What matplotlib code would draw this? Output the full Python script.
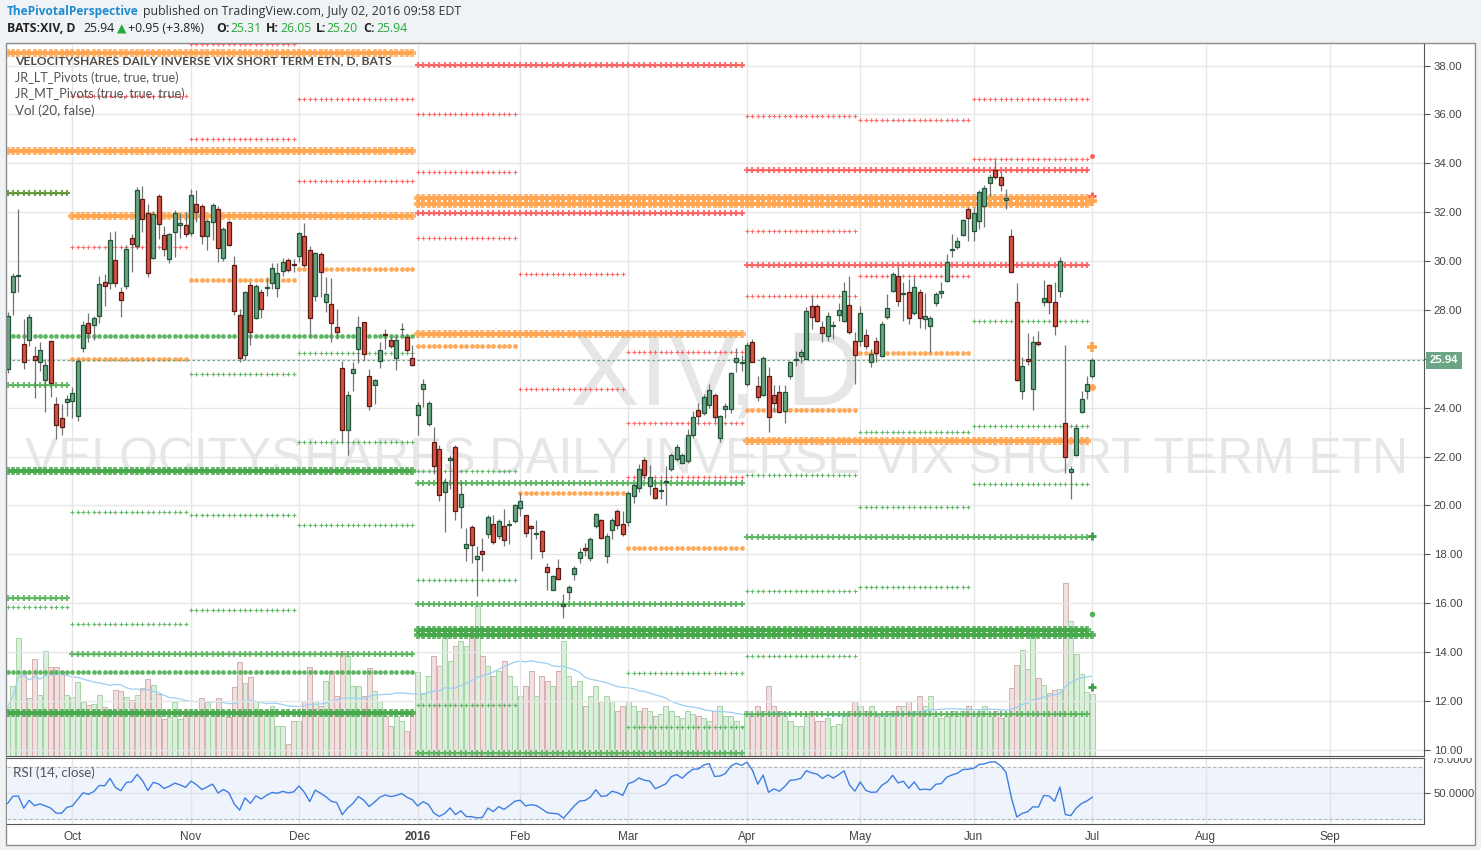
import numpy as np
import pandas as pd
import matplotlib
matplotlib.use("Agg")
import matplotlib.pyplot as plt
from matplotlib.patches import Rectangle
from matplotlib.transforms import blended_transform_factory, Bbox, TransformedBbox

W, H = 1481, 850

# BATS:XIV daily bars, 2015-09-15 .. 2016-07-01
opens = [25.58, 28.72, 29.38, 26.59, 26.79, 26.12, 25.85, 25.15, 26.71, 24.17,
         23.59, 24.25, 24.29, 23.64, 26.43, 27.45, 27.39, 27.76, 29.13, 29.12,
         30.05, 28.72, 28.99, 30.95, 30.63, 32.53, 31.96, 30.11, 32.66, 31.06,
         30.07, 31.18, 31.49, 31.47, 31.14, 32.33, 32.25, 31.02, 31.60, 32.12,
         30.11, 31.59, 29.83, 27.78, 26.14, 29.03, 27.68, 28.75, 28.88, 29.09,
         28.88, 29.61, 30.03, 29.87, 30.22, 31.02, 30.44, 28.58, 30.28, 28.31,
         28.23, 27.29, 25.64, 23.10, 25.40, 26.42, 27.49, 25.28, 24.93, 25.93,
         27.00, 26.78, 26.04, 27.20, 26.88, 26.05, 23.70, 24.78, 23.35, 22.61,
         22.33, 20.56, 21.85, 22.41, 19.95, 18.27, 19.13, 17.81, 18.14, 18.84,
         19.26, 18.74, 19.18, 19.21, 19.36, 19.91, 19.59, 19.18, 18.85, 18.95,
         17.47, 16.56, 17.45, 15.87, 16.46, 17.20, 17.85, 18.27, 17.85, 19.15,
         19.40, 17.95, 18.98, 19.77, 19.25, 19.32, 20.38, 20.71, 21.86, 20.79,
         20.72, 20.58, 20.95, 21.50, 21.91, 21.75, 21.83, 22.90, 23.92, 23.80,
         24.13, 24.50, 22.78, 23.96, 23.96, 25.89, 25.83, 24.96, 26.67, 24.89,
         24.53, 25.30, 24.53, 24.65, 23.87, 25.28, 25.94, 26.10, 26.01, 28.15,
         28.15, 27.31, 26.92, 27.33, 27.79, 27.56, 28.21, 26.74, 26.74, 26.98,
         25.89, 26.71, 26.12, 27.70, 28.79, 29.38, 28.67, 28.72, 27.86, 28.72,
         27.63, 27.33, 28.27, 28.68, 29.17, 30.46, 30.56, 31.08, 32.12, 31.21,
         31.63, 32.25, 33.19, 33.72, 33.44, 32.51, 31.02, 28.31, 24.69, 25.99,
         24.78, 26.70, 28.34, 29.02, 28.31, 28.79, 23.39, 21.38, 22.06, 23.84,
         24.69, 25.31]
highs = [27.90, 29.51, 32.14, 27.63, 27.83, 26.53, 26.67, 25.99, 26.75, 24.42,
         24.14, 24.51, 24.83, 25.99, 27.56, 27.87, 27.76, 29.38, 29.46, 31.18,
         31.23, 28.93, 30.66, 31.11, 33.03, 33.07, 32.34, 32.03, 32.75, 31.45,
         31.14, 32.07, 31.97, 32.00, 32.96, 32.92, 32.34, 31.73, 32.36, 32.27,
         31.38, 31.66, 30.20, 28.04, 28.79, 29.13, 29.06, 28.86, 29.33, 29.92,
         29.91, 30.11, 30.11, 30.09, 31.18, 31.56, 30.61, 30.39, 30.36, 29.33,
         29.29, 28.04, 25.92, 24.69, 25.89, 27.74, 27.52, 25.58, 25.19, 26.67,
         27.22, 26.88, 26.94, 27.46, 27.00, 26.56, 24.25, 25.19, 24.28, 23.23,
         22.49, 21.14, 22.05, 22.46, 21.00, 19.08, 19.22, 18.36, 18.68, 19.59,
         19.59, 19.43, 19.84, 19.39, 20.08, 20.49, 19.63, 19.22, 19.39, 18.99,
         17.65, 17.17, 17.79, 16.38, 16.76, 17.51, 18.24, 18.47, 18.72, 19.70,
         19.43, 18.88, 19.50, 19.86, 19.77, 20.59, 20.93, 21.68, 21.99, 21.64,
         21.07, 21.09, 21.61, 22.16, 22.53, 22.16, 23.12, 23.87, 24.21, 24.55,
         24.96, 24.59, 23.72, 24.21, 25.47, 26.46, 26.15, 26.67, 26.81, 25.28,
         26.12, 25.65, 24.92, 24.92, 24.92, 25.92, 26.33, 26.42, 28.10, 28.58,
         28.24, 27.56, 27.90, 27.56, 28.28, 29.13, 29.40, 27.11, 28.15, 27.22,
         26.40, 26.88, 27.55, 28.65, 29.54, 29.75, 29.13, 29.27, 29.33, 28.86,
         28.69, 27.76, 28.72, 29.16, 30.29, 31.11, 30.98, 31.73, 32.21, 32.21,
         32.89, 33.12, 33.57, 34.12, 33.64, 32.96, 31.32, 29.10, 26.06, 27.05,
         26.94, 27.15, 29.24, 29.06, 29.13, 30.16, 26.56, 21.61, 23.32, 24.69,
         25.28, 26.05]
lows = [25.41, 27.80, 28.72, 25.60, 26.51, 24.40, 25.49, 23.83, 24.44, 22.70,
        22.90, 23.66, 23.57, 23.46, 26.26, 26.67, 26.78, 27.46, 28.17, 28.86,
        28.95, 27.72, 28.86, 29.57, 30.50, 31.18, 29.36, 30.09, 30.91, 30.20,
        29.92, 30.18, 30.96, 30.98, 31.04, 31.59, 30.70, 30.46, 30.85, 29.98,
        30.02, 30.61, 27.80, 25.89, 25.96, 26.57, 27.63, 27.68, 28.58, 28.86,
        28.54, 29.40, 29.54, 29.54, 29.95, 29.74, 26.94, 28.38, 28.52, 27.93,
        26.67, 26.81, 22.60, 22.06, 24.69, 25.82, 25.92, 23.91, 24.14, 25.64,
        26.40, 26.44, 25.55, 26.92, 26.29, 25.71, 22.87, 24.03, 23.25, 21.27,
        20.18, 18.91, 20.66, 19.40, 19.08, 17.72, 17.65, 16.28, 17.31, 18.68,
        18.44, 18.61, 18.33, 18.44, 19.29, 19.56, 18.70, 17.81, 18.63, 17.85,
        16.56, 16.53, 16.94, 15.40, 16.15, 16.97, 17.65, 17.92, 17.72, 19.09,
        18.61, 17.65, 18.61, 19.02, 18.74, 19.15, 20.11, 20.55, 21.07, 20.41,
        20.25, 20.25, 20.00, 21.41, 21.82, 21.68, 21.75, 22.78, 23.32, 23.69,
        24.00, 23.42, 22.60, 23.57, 23.80, 25.47, 25.51, 24.89, 25.85, 24.28,
        24.48, 23.01, 23.83, 23.80, 23.39, 25.19, 25.71, 25.81, 25.99, 27.22,
        27.49, 26.67, 26.74, 26.81, 27.56, 27.49, 27.01, 24.96, 26.53, 26.40,
        25.65, 25.85, 26.06, 27.63, 28.72, 28.17, 27.56, 27.42, 27.79, 27.28,
        27.22, 26.26, 28.17, 28.47, 29.13, 30.18, 30.50, 31.02, 30.80, 30.84,
        31.32, 31.39, 32.68, 33.34, 32.85, 32.14, 29.51, 25.10, 24.35, 25.74,
        23.91, 26.53, 28.17, 27.83, 26.97, 28.52, 21.31, 20.25, 22.02, 23.80,
        24.35, 25.20]
closes = [27.76, 29.38, 29.42, 25.89, 27.70, 25.95, 26.38, 25.73, 25.03, 23.31,
          23.23, 24.35, 24.62, 25.93, 27.37, 27.04, 27.65, 29.05, 28.99, 30.87,
          29.09, 28.42, 30.50, 30.71, 32.90, 31.71, 29.50, 31.92, 31.51, 30.48,
          31.10, 31.96, 31.56, 31.10, 32.70, 32.00, 31.02, 31.63, 32.29, 30.52,
          31.30, 30.65, 27.94, 26.05, 28.72, 27.08, 28.96, 28.02, 28.94, 29.70,
          29.50, 29.95, 29.62, 29.83, 31.14, 29.85, 27.65, 30.33, 29.57, 28.65,
          27.45, 27.11, 23.10, 24.50, 25.58, 27.29, 26.18, 24.07, 25.15, 26.38,
          26.97, 26.51, 26.78, 27.24, 26.37, 25.75, 24.13, 24.95, 24.21, 21.61,
          20.44, 20.97, 21.96, 19.77, 20.48, 18.43, 18.38, 17.92, 18.02, 19.54,
          18.50, 19.36, 18.58, 19.26, 20.00, 20.18, 18.88, 19.08, 18.88, 18.15,
          17.28, 17.10, 17.00, 15.97, 16.67, 17.45, 18.10, 18.17, 18.63, 19.66,
          18.67, 18.77, 19.40, 19.21, 18.84, 20.52, 20.85, 21.50, 21.25, 21.16,
          20.31, 20.62, 20.99, 22.08, 22.41, 22.06, 22.90, 23.62, 23.66, 24.43,
          24.74, 23.60, 23.66, 24.05, 25.40, 26.05, 25.86, 26.57, 25.89, 24.42,
          26.05, 23.60, 24.21, 23.83, 24.65, 25.88, 25.98, 26.29, 27.97, 27.70,
          27.56, 27.04, 27.74, 27.37, 28.01, 28.79, 27.08, 26.16, 27.86, 26.53,
          26.19, 26.22, 27.41, 28.06, 29.47, 28.38, 28.71, 27.65, 28.92, 27.65,
          27.74, 27.65, 28.64, 28.76, 29.98, 30.50, 30.84, 31.69, 31.75, 31.96,
          32.82, 32.98, 33.42, 33.44, 33.13, 32.57, 29.57, 25.14, 25.69, 25.93,
          26.67, 26.61, 28.47, 28.34, 27.33, 30.02, 21.99, 21.48, 23.18, 24.35,
          24.99, 25.94]
# relative volume (bar height units)
volumes = [49, 70, 118, 85, 58, 97, 61, 105, 89, 89,
           85, 61, 59, 74, 54, 51, 52, 61, 49, 46,
           66, 65, 59, 56, 61, 68, 77, 71, 62, 37,
           39, 54, 37, 41, 43, 41, 58, 54, 43, 58,
           46, 39, 69, 94, 73, 79, 55, 46, 41, 50,
           30, 30, 12, 35, 35, 55, 89, 55, 50, 75,
           85, 60, 105, 100, 70, 70, 60, 88, 65, 55,
           40, 30, 40, 35, 25, 45, 84, 62, 80, 100,
           90, 120, 95, 110, 115, 110, 120, 150, 100, 90,
           80, 85, 95, 80, 70, 60, 70, 85, 60, 80,
           75, 70, 85, 115, 80, 70, 75, 50, 60, 70,
           55, 60, 55, 45, 50, 55, 50, 45, 48, 45,
           40, 42, 50, 45, 40, 38, 45, 42, 40, 38,
           35, 45, 50, 40, 40, 35, 30, 45, 40, 50,
           45, 70, 50, 45, 40, 35, 30, 30, 40, 45,
           35, 35, 38, 30, 32, 40, 45, 55, 50, 45,
           50, 40, 40, 45, 45, 50, 50, 55, 45, 60,
           50, 60, 40, 38, 40, 45, 40, 45, 50, 40,
           45, 50, 40, 45, 38, 40, 68, 91, 106, 87,
           119, 78, 71, 63, 66, 67, 173, 135, 102, 82,
           64, 62]

holidays = ["2015-11-26", "2015-12-25", "2016-01-01", "2016-01-18",
            "2016-02-15", "2016-03-25", "2016-05-30"]
days = pd.bdate_range("2015-09-15", "2016-07-01")
days = days[~days.isin(pd.to_datetime(holidays))]
future = pd.bdate_range("2016-07-04", "2016-09-30")
all_days = days.append(future)

month_names = ["Oct", "Nov", "Dec", "2016", "Feb", "Mar", "Apr", "May", "Jun", "Jul", "Aug", "Sep"]
month_keys = ["2015-10", "2015-11", "2015-12", "2016-01", "2016-02", "2016-03",
              "2016-04", "2016-05", "2016-06", "2016-07", "2016-08", "2016-09"]
keys = all_days.strftime("%Y-%m")
month_idx = [int(np.argmax(keys == k)) for k in month_keys]

# pivot periods (bar index ranges)
SEP, OCT, NOV, DEC = (0, 11), (12, 33), (34, 53), (54, 75)
JAN, FEB, MAR, APR, MAY, JUN = (76, 94), (95, 114), (115, 136), (137, 157), (158, 178), (179, 200)
Y2015, Q4, Q1, Q2, Y2016 = (0, 75), (12, 75), (76, 136), (137, 200), (76, 200)
JUL = 201

thick_orange = [(Y2015, 38.53), (Y2015, 34.52), (Q4, 31.85), (Y2016, 32.59), (Y2016, 32.34),
                (Q1, 27.01), (Q2, 22.62)]
thick_green = [(Y2015, 21.39), (Y2015, 11.51), (Y2016, 14.92), ((76, 201), 14.71)]
line_red = [(Q1, 38.04), (Q1, 31.97), (Q2, 33.74), (Q2, 29.84)]
line_green = [(SEP, 32.79), (SEP, 24.92), (SEP, 16.23), (Q4, 13.93), (Q1, 20.90),
              (Q1, 15.98), (Q1, 9.87), (Q2, 18.69), (Q2, 11.47)]
dots_orange = [(OCT, 25.99), (NOV, 29.23), (DEC, 29.68), (JAN, 26.52), (FEB, 20.53),
               (MAR, 18.28), (APR, 23.90), (MAY, 26.23)]
dots_green = [(Y2015, 26.93), (Y2015, 13.19)]
small_red = [(OCT, 36.77), (OCT, 30.58), (NOV, 38.90), (NOV, 35.01), (DEC, 36.65), (DEC, 33.28),
             (JAN, 36.03), (JAN, 33.65), (JAN, 30.95), (FEB, 29.47), (FEB, 24.76),
             (MAR, 26.26), (MAR, 23.36), (MAR, 21.15), (APR, 35.95), (APR, 31.23), (APR, 28.57),
             (MAY, 35.79), (MAY, 29.39), (JUN, 36.61), (JUN, 34.19)]
small_green = [(SEP, 15.86), (OCT, 19.75), (OCT, 15.16), (NOV, 25.37), (NOV, 19.59), (NOV, 15.74),
               (DEC, 26.23), (DEC, 22.58), (DEC, 19.22), (JAN, 21.39), (JAN, 16.97), (JAN, 11.84),
               (MAR, 13.15), (MAR, 10.94), (APR, 21.23), (APR, 16.52), (APR, 13.85),
               (MAY, 22.99), (MAY, 19.92), (MAY, 16.68), (JUN, 27.54), (JUN, 23.24), (JUN, 20.86)]
jul_red_dot, jul_red_plus = [34.31], [32.67]
jul_orange_plus, jul_orange_dot = [32.46, 26.48], [24.84]
jul_green_plus, jul_green_dot = [18.77, 12.58], [15.57]

last_price = closes[-1]

RED, ORANGE, GREEN = "#ff5a5a", "#ffa54f", "#55b25a"
UP_FILL, UP_EDGE, DN_FILL, DN_EDGE = "#6ba583", "#225437", "#d75442", "#5b1a13"


def fx(px):
    return px / W


def fy(py):
    return 1 - py / H


fig = plt.figure(figsize=(W / 100, H / 100), dpi=100)
fig.patch.set_facecolor("#f0f3f6")
fig.patches.append(Rectangle((fx(6), fy(845)), fx(1475) - fx(6), fy(43) - fy(845),
                             transform=fig.transFigure, fc="white", ec="#8c8c8c", lw=1, zorder=-5))

rect_main = [fx(7), fy(756), fx(1424) - fx(7), fy(44) - fy(756)]
ax_vol = fig.add_axes(rect_main, zorder=1)
ax = fig.add_axes(rect_main, sharex=ax_vol, zorder=2)
ax_rsi = fig.add_axes([fx(7), fy(824), fx(1424) - fx(7), fy(758) - fy(824)], sharex=ax_vol, zorder=1)
ax.patch.set_alpha(0)

x = np.arange(len(closes))
ax_vol.set_xlim(-0.1, 262.45)
ax.set_ylim(9.75, 38.88)

# watermark
wm1 = ax_vol.text(fx(570), fy(405), "XIV, D", transform=fig.transFigure, fontsize=60,
                  family="Liberation Sans", color="#e6e6e6", va="baseline", ha="left", zorder=0)
wm2 = ax_vol.text(fx(25), fy(473), "VELOCITYSHARES DAILY INVERSE VIX SHORT TERM ETN",
                  transform=fig.transFigure, fontsize=30, family="Liberation Sans",
                  color="#e6e6e6", va="baseline", ha="left", zorder=0)
renderer = fig.canvas.get_renderer()


def fit(t, width):
    w = t.get_window_extent(renderer).width
    t.set_fontsize(t.get_fontsize() * width / w)


fit(wm1, 292)
fit(wm2, 1380)

# volume
up = np.array(closes) >= np.array(opens)
ax_vol.bar(x, volumes, width=0.92, color=np.where(up, "#dcefdc", "#f0e0e0"),
           edgecolor=np.where(up, "#a6d3a6", "#d4aeae"), lw=0.7, zorder=1)
vol_ma = pd.Series(volumes, dtype=float).rolling(20, min_periods=1).mean()
ax_vol.plot(x, vol_ma, color="#9ccff3", lw=0.9, zorder=2)
ax_vol.set_ylim(0, 712)
ax_vol.axis("off")

# grid
for p in range(10, 39, 2):
    ax.axhline(p, color="#e6e6e6", lw=1, zorder=0.5)
for m in month_idx:
    ax.axvline(m, color="#e6e6e6", lw=1, zorder=0.5)
    ax_rsi.axvline(m, color="#e3e3e3", lw=1, zorder=0.5)


def pivot(span, price, color, kind):
    xs = np.arange(span[0], span[1] + 1)
    ys = np.full(xs.size, price)
    if kind == "thick":
        ax.plot(xs, ys, color=color, lw=2.6, alpha=0.85, zorder=2, solid_capstyle="butt")
        ax.plot(xs, ys, ls="none", marker="+", ms=5.6, mew=2.6, color=color, alpha=0.85, zorder=2)
    elif kind == "line":
        ax.plot(xs, ys, color=color, lw=1.0, alpha=0.85, zorder=2)
        ax.plot(xs, ys, ls="none", marker="+", ms=4.5, mew=1.5, color=color, alpha=0.85, zorder=2)
    elif kind == "dots":
        ax.plot(xs, ys, ls="none", marker="o", ms=3.4, mew=0, color=color, alpha=0.95, zorder=2)
    else:
        ax.plot(xs, ys, ls="none", marker="+", ms=3.0, mew=0.8, color=color, alpha=0.9, zorder=2)


for span, p in thick_orange:
    pivot(span, p, ORANGE, "thick")
for span, p in thick_green:
    pivot(span, p, "#45a84a", "thick")
for span, p in line_red:
    pivot(span, p, RED, "line")
for k, (span, p) in enumerate(line_green):
    pivot(span, p, "#5b8f2b" if k == 0 else GREEN, "line")
for span, p in dots_orange:
    pivot(span, p, ORANGE, "dots")
for span, p in dots_green:
    pivot(span, p, GREEN, "dots")
for span, p in small_red:
    pivot(span, p, RED, "small")
for span, p in small_green:
    pivot(span, p, GREEN, "small")

ax.plot([JUL] * len(jul_red_dot), jul_red_dot, "o", color=RED, ms=3.5, mew=0, zorder=3)
ax.plot([JUL] * len(jul_red_plus), jul_red_plus, "+", color=RED, ms=6, mew=2, zorder=3)
ax.plot([JUL] * len(jul_orange_plus), jul_orange_plus, "+", color=ORANGE, ms=7, mew=2.6, zorder=3)
ax.plot([JUL] * len(jul_orange_dot), jul_orange_dot, "o", color=ORANGE, ms=5, mew=0, zorder=3)
ax.plot([JUL] * len(jul_green_plus), jul_green_plus, "+", color="#3f9f44", ms=6, mew=2, zorder=3)
ax.plot([JUL] * len(jul_green_dot), jul_green_dot, "o", color=GREEN, ms=4, mew=0, zorder=3)

# candles
for i, (o, h, l, c) in enumerate(zip(opens, highs, lows, closes)):
    ax.vlines(i, l, h, color="#737375", lw=0.9, zorder=4)
    bottom = min(o, c)
    ax.add_patch(Rectangle((i - 0.37, bottom), 0.74, max(abs(c - o), 0.03),
                           fc=UP_FILL if c >= o else DN_FILL,
                           ec=UP_EDGE if c >= o else DN_EDGE, lw=0.9, zorder=5))

ax.axhline(last_price, color="#6ba583", lw=0.9, ls=(0, (2, 2)), zorder=3)

price_ticks = list(range(10, 39, 2))
ax.yaxis.tick_right()
ax.set_yticks(price_ticks)
# the 26.00 label sits under the last-price tag
ax.set_yticklabels(["" if v == 26 else f"{v:.2f}" for v in price_ticks])
ax.tick_params(axis="y", length=4, color="#555555", labelsize=8.2, labelcolor="#444444", pad=3)
for t in ax.get_yticklabels():
    t.set_family("Liberation Sans")
ax.tick_params(axis="x", bottom=False, labelbottom=False)
for s in ["top", "left"]:
    ax.spines[s].set_visible(False)
ax.spines["right"].set_color("#555555")
ax.spines["bottom"].set_color("#555555")

blend = blended_transform_factory(ax.transAxes, ax.transData)
ax.text(1.004, last_price, f"{last_price:.2f}", transform=blend, ha="left", va="center",
        fontsize=8.2, family="Liberation Sans", weight="bold", color="white", zorder=10,
        bbox=dict(boxstyle="square,pad=0.3", fc="#6ba583", ec="none"), clip_on=False)

# RSI (14) from closes
g, lo = 0.5, 0.69
rsi = [100 - 100 / (1 + g / lo)]
for d in np.diff(closes):
    g = (g * 13 + max(d, 0)) / 14
    lo = (lo * 13 + max(-d, 0)) / 14
    rsi.append(100 - 100 / (1 + g / lo))

ax_rsi.set_ylim(26.5, 76.5)
ax_rsi.axhspan(30, 70, color="#eef3fc", zorder=0)
ax_rsi.axhline(50, color="#dde2ea", lw=1, zorder=0.6)
for lvl in (30, 70):
    ax_rsi.axhline(lvl, color="#b5b5b5", lw=0.8, ls=(0, (3, 2)), zorder=0.7)
ax_rsi.plot(x, rsi, color="#3f7fe2", lw=1, zorder=3)
ax_rsi.yaxis.tick_right()
ax_rsi.set_yticks([50])
ax_rsi.set_yticklabels(["50.0000"])
ax_rsi.tick_params(axis="y", length=4, color="#555555", labelsize=8.2, labelcolor="#444444", pad=3)
rblend = blended_transform_factory(ax_rsi.transAxes, ax_rsi.transData)
t75 = ax_rsi.text(1.0 + 7 / 1417, 75, "75.0000", transform=rblend, ha="left", va="center",
                  fontsize=8.2, family="Liberation Sans", color="#444444")
t75.set_clip_box(TransformedBbox(Bbox([[1.0, 0.0], [1.2, 1.0]]), ax_rsi.transAxes))
t75.set_clip_on(True)
ax_rsi.set_xticks(month_idx)
ax_rsi.set_xticklabels(month_names)
ax_rsi.tick_params(axis="x", length=0, labelsize=8.5, labelcolor="#444444", pad=5)
for t in ax_rsi.get_xticklabels() + ax_rsi.get_yticklabels():
    t.set_family("Liberation Sans")
ax_rsi.get_xticklabels()[3].set_fontweight("bold")
ax_rsi.spines["left"].set_visible(False)
for s in ["top", "right", "bottom"]:
    ax_rsi.spines[s].set_color("#555555")
t = fig.text(fx(13), fy(773), "RSI (14, close)", fontsize=9, family="Lato",
             color="#555555", va="center", ha="left", zorder=20)

# header
renderer = fig.canvas.get_renderer()
fit(t, 82)
t = fig.text(fx(7), fy(11), "ThePivotalPerspective", fontsize=9.5, family="Open Sans",
             weight="bold", color="#1f8ad0", va="center")
fit(t, 132)
t = fig.text(fx(143), fy(11), "published on TradingView.com, July 02, 2016 09:58 EDT",
             fontsize=9.5, family="Open Sans", color="#333333", va="center")
fit(t, 320)
pieces = [("BATS:XIV, D", 7, "bold", "#222222"), ("25.94", 83, "normal", "#222222"),
          ("+0.95 (+3.8%)", 128, "normal", "#222222"), ("O:", 216, "bold", "#222222"),
          ("25.31", 230, "normal", "#26a83a"), ("H:", 266, "bold", "#222222"),
          ("26.05", 280, "normal", "#26a83a"), ("L:", 316, "bold", "#222222"),
          ("25.20", 326, "normal", "#26a83a"), ("C:", 363, "bold", "#222222"),
          ("25.94", 376, "normal", "#26a83a")]
for s, px, wgt, col in pieces:
    fig.text(fx(px), fy(29), s, fontsize=8.8, family="Open Sans", weight=wgt, color=col, va="center")
fig.text(fx(117), fy(29), "\u25b2", fontsize=8.8, family="DejaVu Sans", color="#26a83a", va="center")

t = fig.text(fx(15), fy(61), "VELOCITYSHARES DAILY INVERSE VIX SHORT TERM ETN, D, BATS",
             fontsize=9, family="Lato", weight="bold", color="#4a4a4a", va="center", zorder=20)
fit(t, 377)
for s, py, wd in [("JR_LT_Pivots (true, true, true)", 78, 164),
                  ("JR_MT_Pivots (true, true, true)", 94, 170),
                  ("Vol (20, false)", 111, 80)]:
    t = fig.text(fx(15), fy(py), s, fontsize=9, family="Lato", color="#555555", va="center", zorder=20)
    fit(t, wd)

fig.savefig("out.png", dpi=100, facecolor=fig.get_facecolor())
